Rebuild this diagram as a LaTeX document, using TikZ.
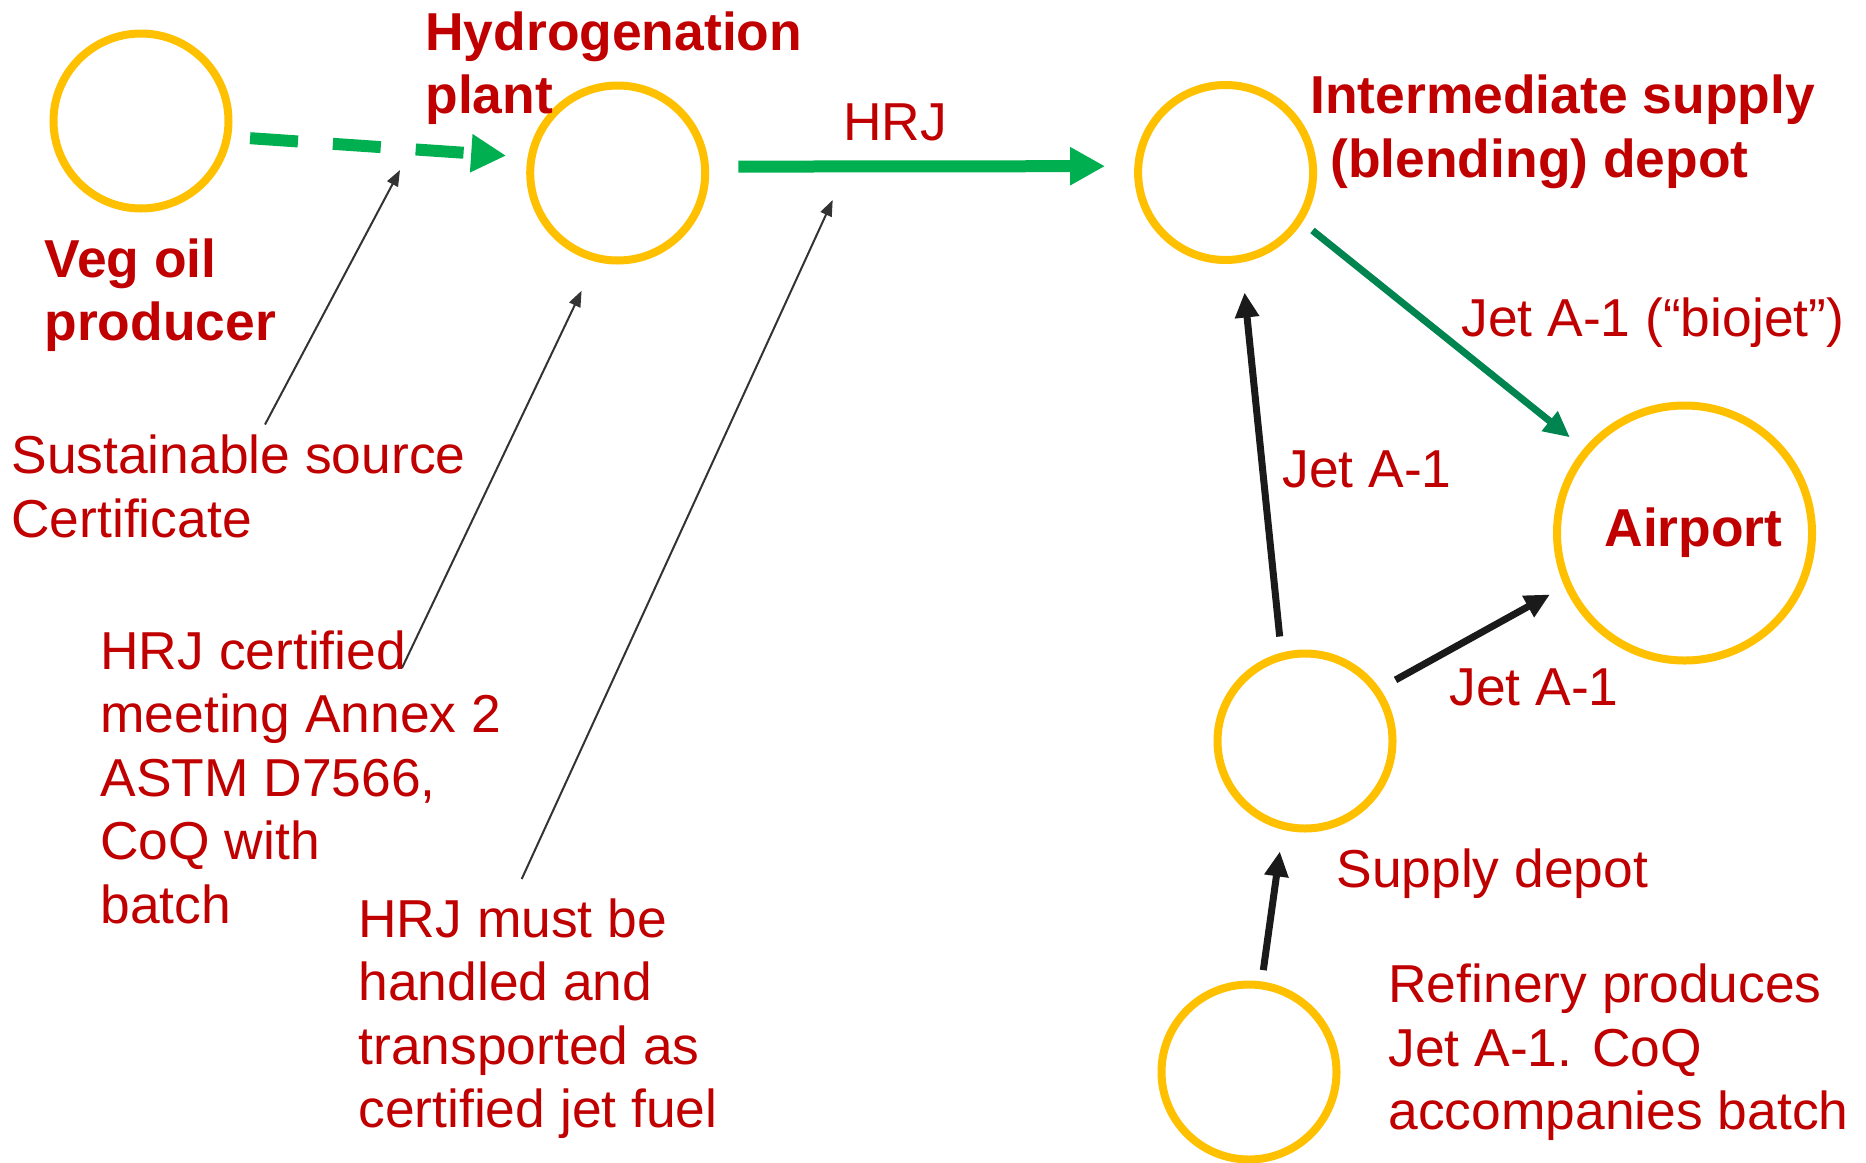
\documentclass[tikz,border=0pt]{standalone}
\usepackage{fontspec}
\setmainfont{Liberation Sans}
\usetikzlibrary{arrows.meta}

\definecolor{labelred}{HTML}{C00000}
\definecolor{siteyellow}{HTML}{FFC000}
\definecolor{hrjgreen}{HTML}{00B050}
\definecolor{biogreen}{HTML}{008450}
\definecolor{fuelblack}{HTML}{1A1A1A}
\definecolor{notegray}{HTML}{333333}

\tikzset{
    site/.style={circle, draw=siteyellow, line width=4pt, minimum size=87.5pt, inner sep=0pt},
    txt/.style={text=labelred, inner sep=0pt, align=left, font=\fontsize{26.7}{31.75}\selectfont},
    boldtxt/.style={txt, font=\fontsize{26.7}{31.75}\selectfont\bfseries},
    hrjflow/.style={hrjgreen, line width=6pt, -{Triangle[length=17.5pt, width=18pt]}},
    bioflow/.style={biogreen, line width=3.5pt, -{Triangle[length=13pt, width=12pt]}},
    fuelflow/.style={fuelblack, line width=3.5pt, -{Triangle[length=12.5pt, width=11.5pt]}},
    note/.style={notegray, line width=1pt, -{Triangle[length=8pt, width=6pt]}}
}

\begin{document}
\begin{tikzpicture}[x=0.5pt, y=-0.5pt]
    \useasboundingbox (0, 0) rectangle (1866, 1162);

    % sites
    \node[site] (veg) at (141, 121) {};
    \node[site] (hyd) at (617.7, 173) {};
    \node[site] (blend) at (1225.6, 172.5) {};
    \node[site, minimum size=127.5pt, text=labelred, font=\fontsize{26.7}{31.75}\selectfont\bfseries] (airport) at (1684.5, 533) {\hspace*{9pt}Airport};
    \node[site] (supply) at (1305, 741) {};
    \node[site] (refinery) at (1249, 1072) {};

    % names of the sites
    \node[boldtxt, anchor=north west] (veglbl) at (44, 238) {Veg oil\\producer};
    \node[boldtxt, anchor=north west] (hydlbl) at (425, 11) {Hydrogenation\\plant};
    \node[boldtxt, anchor=north west] (blendlbl) at (1310, 74.5) {Intermediate supply\\\hspace*{10pt}(blending) depot};
    \node[txt, anchor=base west] (supplylbl) at (1336, 887) {Supply depot};
    \node[txt, anchor=north west] (reflbl) at (1388, 963.5) {Refinery produces\\Jet A-1. CoQ\\accompanies batch};

    % flows
    \draw[hrjflow, dash pattern=on 24pt off 17.5pt, shorten <=9.5pt, shorten >=10.75pt] (veg.350) -- (hyd.170);
    \draw[hrjflow, shorten <=14.7pt, shorten >=14.65pt] (hyd.4) -- (blend.176);
    \node[txt, anchor=base west] (hrjlbl) at (843, 140) {HRJ};

    \draw[bioflow, shorten <=6.5pt, shorten >=8.9pt] (blend.327) -- (airport.140);
    \node[txt, anchor=base west] (biolbl) at (1461, 336) {Jet A-1 (“biojet”)};

    \draw[fuelflow, shorten <=8.1pt, shorten >=15pt] (supply.105) -- (blend.280);
    \node[txt, anchor=base west] (jetup) at (1282, 487) {Jet A-1};

    \draw[fuelflow, shorten <=8.9pt, shorten >=8.25pt] (supply.35) -- (airport.204);
    \node[txt, anchor=base west] (jetair) at (1449, 705) {Jet A-1};

    \draw[fuelflow, shorten <=5.7pt, shorten >=10.9pt] (refinery.82) -- (supply.256);

    % certificates
    \node[txt, anchor=north west] (srclbl) at (11, 434.5) {Sustainable source\\Certificate};
    \node[txt, anchor=north west] (certlbl) at (100, 630) {HRJ certified\\meeting Annex 2\\ASTM D7566,\\CoQ with\\batch};
    \node[txt, anchor=north west] (handlelbl) at (358, 898) {HRJ must be\\handled and\\transported as\\certified jet fuel};

    \coordinate (srcpt) at (400, 170);
    \coordinate (certpt) at (581.6, 290.7);
    \coordinate (handlept) at (832.7, 200);

    \draw[note] ([shift={(254, -10)}]srclbl.north west) -- (srcpt);
    \draw[note] ([shift={(302, 38)}]certlbl.north west) -- (certpt);
    \draw[note] ([shift={(163.7, -19)}]handlelbl.north west) -- (handlept);

\end{tikzpicture}
\end{document}
